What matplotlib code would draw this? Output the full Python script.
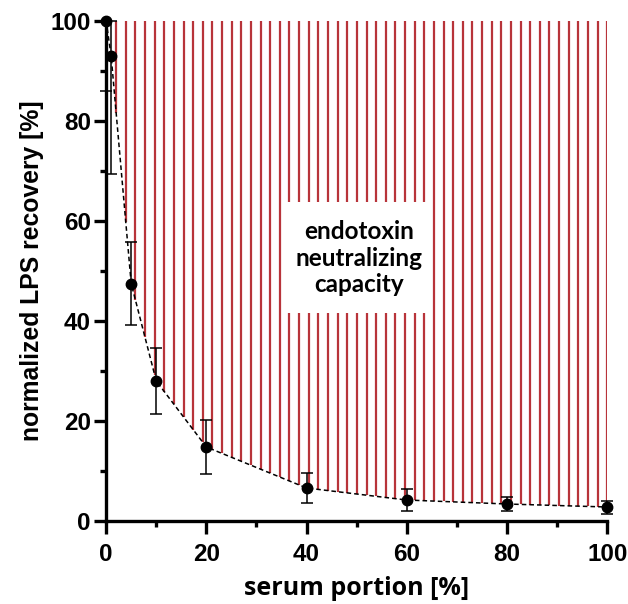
import matplotlib
matplotlib.use("Agg")
from matplotlib import pyplot as plt
import numpy as np

# serum portion vs normalized LPS recovery
serum = [0, 1, 5, 10, 20, 40, 60, 80, 100]
recovery = [100, 93, 47.5, 28, 14.8, 6.6, 4.2, 3.4, 2.8]
err = [14, 23.5, 8.3, 6.6, 5.4, 3.0, 2.2, 1.4, 1.3]

n_hatch = 52
hatch_x = np.linspace(2, 100, n_hatch)
hatch_bottom = np.interp(hatch_x, serum, recovery)

fig = plt.figure(figsize=(6.28, 6.04), dpi=100)
ax = fig.add_axes([0.169, 0.1374, 0.798, 0.8278])

ax.vlines(hatch_x, hatch_bottom, 100, colors="#b8343a", lw=1.6, zorder=1)

# white box behind the label
ax.add_patch(plt.Rectangle((35.3, 41.6), 29.8, 22.2, facecolor="white",
                           edgecolor="none", zorder=2))
ax.text(50.4, 52.6, "endotoxin\nneutralizing\ncapacity", ha="center", va="center",
        fontsize=17.5, family="Lato", fontweight="bold", linespacing=1.2, zorder=3)

ax.plot(serum, recovery, c="k", ls=(0, (3, 2)), lw=1.1, zorder=4, clip_on=False)
low = [min(e, r) for e, r in zip(err, recovery)]
up = [min(e, 100 - r) for e, r in zip(err, recovery)]
ax.errorbar(serum, recovery, yerr=[low, up], fmt="o", c="k", ms=7.5,
            elinewidth=1.1, capsize=4, capthick=1.1, zorder=5, clip_on=False)

ax.set_xlim(0, 100)
ax.set_ylim(0, 100)
ax.set_xticks([0, 20, 40, 60, 80, 100])
ax.set_yticks([0, 20, 40, 60, 80, 100])
ax.set_xticks(np.arange(10, 100, 20), minor=True)
ax.set_yticks(np.arange(10, 100, 20), minor=True)

for s in ["top", "right"]:
    ax.spines[s].set_visible(False)
for s in ["left", "bottom"]:
    ax.spines[s].set_linewidth(2.4)
ax.tick_params(which="major", length=9, width=2.4, direction="out")
ax.tick_params(which="minor", length=4.5, width=2.4, direction="out")
ax.tick_params(axis="x", which="major", pad=7)
ax.tick_params(axis="y", which="major", pad=2)
for lab in ax.get_xticklabels() + ax.get_yticklabels():
    lab.set_family("Liberation Sans")
    lab.set_fontweight("bold")
    lab.set_fontsize(17.5)

ax.set_xlabel("serum portion [%]", family="Open Sans", fontweight="bold", fontsize=18, labelpad=7)
ax.set_ylabel("normalized LPS recovery [%]", family="Liberation Sans", fontweight="bold",
              fontsize=17.8, labelpad=5)

fig.savefig("out.png", dpi=100)
